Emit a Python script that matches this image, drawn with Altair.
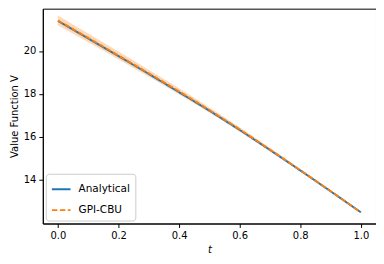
import altair as alt
import pandas as pd

t_vals = [0.0, 0.1, 0.2, 0.3, 0.4, 0.5, 0.6, 0.7, 0.8, 0.9, 1.0]
analytical = [21.40, 20.58, 19.76, 18.93, 18.08, 17.22, 16.32, 15.39, 14.44, 13.47, 12.49]
gpi_cbu = [21.42, 20.61, 19.79, 18.96, 18.12, 17.25, 16.35, 15.41, 14.45, 13.48, 12.49]
gpi_lower = [21.20, 20.42, 19.62, 18.81, 17.99, 17.14, 16.26, 15.34, 14.40, 13.45, 12.48]
gpi_upper = [21.64, 20.80, 19.96, 19.11, 18.25, 17.36, 16.44, 15.48, 14.50, 13.51, 12.50]

series_names = ["Analytical", "GPI-CBU"]
colors = ["#1f77b4", "#ff7f0e"]

lines = pd.DataFrame({
    "t": t_vals * 2,
    "V": analytical + gpi_cbu,
    "series": ["Analytical"] * len(t_vals) + ["GPI-CBU"] * len(t_vals),
})
band = pd.DataFrame({"t": t_vals, "lo": gpi_lower, "hi": gpi_upper})

xscale = alt.Scale(domain=[-0.05, 1.05], nice=False, zero=False)
yscale = alt.Scale(domain=[11.97, 21.97], nice=False, zero=False)

xaxis = alt.Axis(values=[0, 0.2, 0.4, 0.6, 0.8, 1.0], format=".1f", title="t",
                 titleFontStyle="italic", grid=False)
yaxis = alt.Axis(values=[14, 16, 18, 20], title="Value Function V", grid=False)

area = alt.Chart(band).mark_area(color="#ff7f0e", opacity=0.3, stroke="#ff7f0e",
                                 strokeOpacity=0.35, strokeWidth=1,
                                 interpolate="monotone").encode(
    x=alt.X("t:Q", scale=xscale, axis=xaxis),
    y=alt.Y("lo:Q", scale=yscale, axis=yaxis),
    y2="hi:Q",
)

line = alt.Chart(lines).mark_line(strokeWidth=1.9, interpolate="monotone").encode(
    x=alt.X("t:Q", scale=xscale),
    y=alt.Y("V:Q", scale=yscale),
    color=alt.Color("series:N", scale=alt.Scale(domain=series_names, range=colors),
                    legend=alt.Legend(title=None, orient="bottom-left", offset=3,
                                      symbolType="stroke", symbolStrokeWidth=1.9,
                                      symbolSize=350, labelFontSize=10.5,
                                      labelFont="DejaVu Sans", labelColor="black",
                                      strokeColor="#cccccc",
                                      fillColor="white", padding=5, cornerRadius=3,
                                      rowPadding=5, labelOffset=7)),
    strokeDash=alt.StrokeDash("series:N",
                              scale=alt.Scale(domain=series_names, range=[[1, 0], [5.5, 2.5]]),
                              legend=None),
    order=alt.Order("t:Q"),
)

chart = alt.layer(area, line).properties(
    width=335, height=216,
    autosize=alt.AutoSizeParams(type="none"),
    padding={"left": 35, "top": 0, "right": 0, "bottom": 32},
).configure_view(stroke="black", strokeWidth=1).configure_axis(
    labelFont="DejaVu Sans", titleFont="DejaVu Sans", labelFontSize=10,
    titleFontSize=10, titleFontWeight="normal", labelColor="black", titleColor="black",
    domainColor="black", tickColor="black", tickSize=4, labelPadding=3,
)

chart.save("out.html", embed_options={"renderer": "svg", "actions": False})
